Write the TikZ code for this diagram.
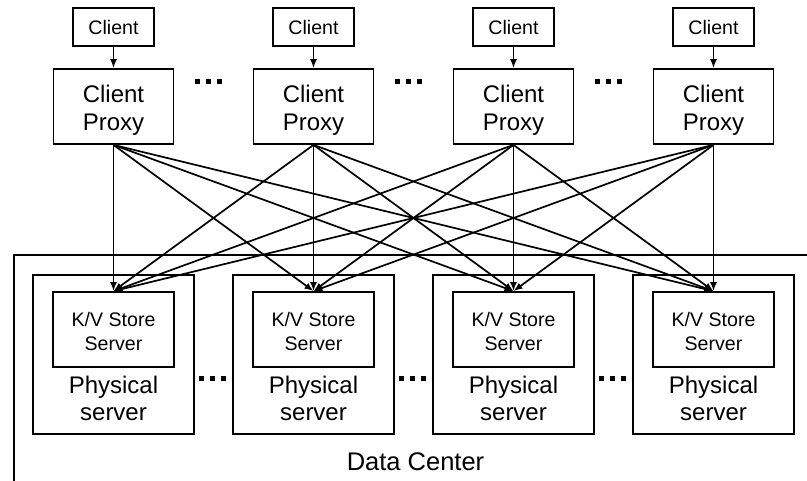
\documentclass[tikz,border=0pt]{standalone}
\usepackage{fontspec}
\setmainfont{Liberation Sans}
\usetikzlibrary{arrows.meta}

\tikzset{
  box/.style={draw, line width=1.8pt, inner sep=0pt, fill=none},
  clientbox/.style={box, minimum width=81pt, minimum height=38pt,
    font=\fontsize{19.6}{23}\selectfont},
  proxybox/.style={box, minimum width=120pt, minimum height=75pt},
  hostbox/.style={box, minimum width=161pt, minimum height=159pt},
  kvbox/.style={box, minimum width=121pt, minimum height=75pt},
  biglbl/.style={anchor=base, inner sep=0pt, font=\fontsize{24}{28}\selectfont},
  smalllbl/.style={anchor=base, inner sep=0pt, font=\fontsize{19.6}{23}\selectfont},
  link/.style={line width=1.7pt, -{Latex[length=9pt,width=7pt]}},
  dotsq/.style={fill=black},
}

\newcommand{\dotrow}[2]{%
  \fill[dotsq] (#1-13.5,#2-2.5) rectangle ++(5,5);
  \fill[dotsq] (#1-2.5,#2-2.5) rectangle ++(5,5);
  \fill[dotsq] (#1+8.5,#2-2.5) rectangle ++(5,5);
}

\begin{document}
\begin{tikzpicture}[x=1pt,y=-1pt]
  \useasboundingbox (0,0) rectangle (807,480);

  % data center enclosure, running off the right and bottom edges
  \draw[line width=1.6pt] (14,490) -- (14,255) -- (820,255);
  \node[anchor=base, inner sep=0pt, font=\fontsize{25.5}{30}\selectfont]
    (dc) at (415.5,470) {Data Center};

  \foreach \i in {1,...,4} {
    \pgfmathsetmacro{\cx}{113.5+200*(\i-1)}
    % client and its proxy
    \node[clientbox] (c\i) at (\cx,27) {Client};
    \node[proxybox] (p\i) at (\cx,106.5) {};
    \node[biglbl] (pa\i) at (\cx,102) {Client};
    \node[biglbl] (pb\i) at (\cx,130.5) {Proxy};
    \draw[link] (c\i) -- (p\i);
    % physical host with its key/value store
    \node[hostbox] (h\i) at (\cx,354.5) {};
    \node[kvbox] (kv\i) at (\cx,329.5) {};
    \node[smalllbl] (ka\i) at (\cx,326) {K/V Store};
    \node[smalllbl] (kb\i) at (\cx,350) {Server};
    \node[biglbl] (ha\i) at (\cx,393) {Physical};
    \node[biglbl] (hb\i) at (\cx,420.5) {server};
  }

  % every proxy talks to every store server
  \foreach \i in {1,...,4} {
    \foreach \j in {1,...,4} {
      \draw[link] (p\i.south) -- (kv\j.north);
    }
  }

  % ellipses between repeated units
  \foreach \k in {0,1,2} {
    \dotrow{208.5+200*\k}{81}
    \dotrow{212.5+200*\k}{378}
  }
\end{tikzpicture}
\end{document}
